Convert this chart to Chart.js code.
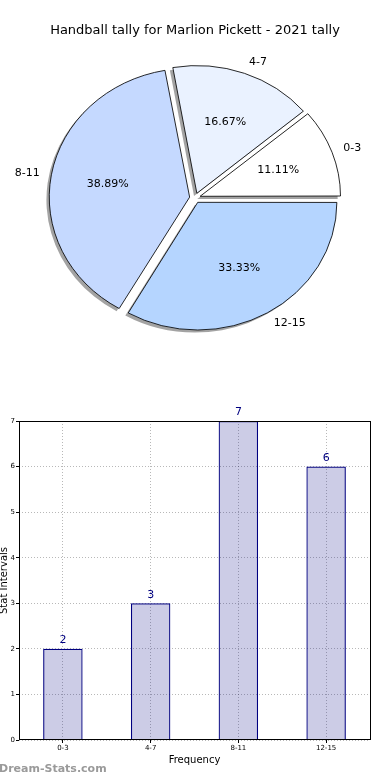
<!DOCTYPE html>
<html>
<head>
<meta charset="utf-8">
<script src="https://cdn.jsdelivr.net/npm/chart.js@4.4.0/dist/chart.umd.min.js"></script>
<style>
  html, body { margin: 0; padding: 0; background: #fff; }
  #page { position: relative; width: 390px; height: 780px; overflow: hidden; font-family: "DejaVu Sans", sans-serif; }
  #pieTitle { position: absolute; left: 0; top: 22px; width: 390px; text-align: center; font-size: 13px; color: #000; }
  #pieBox { position: absolute; left: 0; top: 0; width: 390px; height: 390px; }
  #barBox { position: absolute; left: 0; top: 390px; width: 390px; height: 390px; }
  #mark { position: absolute; left: -1px; top: 762px; font-weight: bold; font-size: 11px; color: #9a9a9a; }
</style>
</head>
<body>
<div id="page">
  <div id="pieBox"><canvas id="pie"></canvas></div>
  <div id="pieTitle">Handball tally for Marlion Pickett - 2021 tally</div>
  <div id="barBox"><canvas id="bar"></canvas></div>
  <div id="mark">Dream-Stats.com</div>
</div>
<script>
// data
var categories = ['0-3', '4-7', '8-11', '12-15'];
var tally = [2, 3, 7, 6];
var yTicks = [0, 1, 2, 3, 4, 5, 6, 7];

var sliceColors = ['#ffffff', '#eaf2ff', '#c5d9ff', '#b5d5ff'];

Chart.defaults.font.family = '"DejaVu Sans", sans-serif';
Chart.defaults.color = '#000';

// pie goes clockwise in chart.js, the original goes counter clockwise
var pieLabels = categories.slice().reverse();
var pieValues = tally.slice().reverse();
var pieColors = sliceColors.slice().reverse();
var total = tally.reduce(function(a, b) { return a + b; }, 0);

var STRETCH = 1.09;   // the original pie is an ellipse
var EXPLODE = 5;

var ellipsePie = {
    id: 'ellipsePie',
    beforeDatasetsDraw: function(chart) {
        var meta = chart.getDatasetMeta(0);
        var ctx = chart.ctx;
        var cx = meta.data[0].x;
        ctx.save();
        ctx.translate(cx, 0);
        ctx.scale(STRETCH, 1);
        ctx.translate(-cx, 0);
        // shadows
        ctx.fillStyle = 'rgba(0,0,0,0.36)';
        meta.data.forEach(function(a) {
            var mid = (a.startAngle + a.endAngle) / 2;
            var fix = 1 - Math.sin(Math.min(Math.PI, a.circumference));
            var x = a.x + Math.cos(mid) * EXPLODE - 2.6;
            var y = a.y + Math.sin(mid) * EXPLODE + 2.6;
            ctx.beginPath();
            ctx.moveTo(x, y);
            ctx.arc(x, y, a.outerRadius + EXPLODE * fix, a.startAngle, a.endAngle);
            ctx.closePath();
            ctx.fill();
        });
    },
    afterDatasetsDraw: function(chart) {
        var ctx = chart.ctx;
        ctx.restore();
        var meta = chart.getDatasetMeta(0);
        ctx.save();
        ctx.font = '11px "DejaVu Sans"';
        ctx.fillStyle = '#000';
        ctx.textBaseline = 'middle';
        meta.data.forEach(function(a, i) {
            var mid = (a.startAngle + a.endAngle) / 2;
            var c = Math.cos(mid), s = Math.sin(mid);
            var r = a.outerRadius;
            var lx = a.x + (EXPLODE + 1.1 * r) * c * STRETCH;
            var ly = a.y + (EXPLODE + 1.1 * r) * s;
            ctx.textAlign = c > 0 ? 'left' : 'right';
            ctx.fillText(pieLabels[i], lx, ly);
            var px = a.x + (EXPLODE + 0.6 * r) * c * STRETCH;
            var py = a.y + (EXPLODE + 0.6 * r) * s;
            ctx.textAlign = 'center';
            ctx.fillText((pieValues[i] / total * 100).toFixed(2) + '%', px, py);
        });
        ctx.restore();
    }
};

new Chart(document.getElementById('pie'), {
    type: 'pie',
    data: {
        labels: pieLabels,
        datasets: [{
            data: pieValues,
            backgroundColor: pieColors,
            borderColor: '#000',
            borderWidth: 0.8,
            offset: EXPLODE * 4
        }]
    },
    options: {
        responsive: true,
        maintainAspectRatio: false,
        animation: false,
        radius: 127,
        rotation: 90,
        layout: { padding: { top: 6, right: 0, left: 0, bottom: 0 } },
        plugins: { legend: { display: false }, tooltip: { enabled: false } }
    },
    plugins: [ellipsePie]
});

var frame = {
    id: 'frame',
    afterDatasetsDraw: function(chart) {
        var a = chart.chartArea, ctx = chart.ctx;
        ctx.save();
        ctx.strokeStyle = '#000';
        ctx.lineWidth = 1;
        ctx.strokeRect(Math.round(a.left) + 0.5, Math.round(a.top) + 0.5,
            Math.round(a.right - a.left), Math.round(a.bottom - a.top) - 1);
        // value labels
        var meta = chart.getDatasetMeta(0);
        ctx.font = '11px "DejaVu Sans"';
        ctx.fillStyle = '#000080';
        ctx.textAlign = 'center';
        ctx.textBaseline = 'bottom';
        meta.data.forEach(function(bar, i) {
            ctx.fillText(String(tally[i]), bar.x, bar.y - 3);
        });
        ctx.restore();
    }
};

var gridColor = 'rgba(0,0,0,0.28)';

new Chart(document.getElementById('bar'), {
    type: 'bar',
    data: {
        labels: categories,
        datasets: [{
            data: tally,
            backgroundColor: 'rgba(0,0,128,0.2)',
            borderColor: '#000080',
            borderWidth: 1.2,
            barPercentage: 0.45,
            categoryPercentage: 1
        }]
    },
    options: {
        responsive: true,
        maintainAspectRatio: false,
        animation: false,
        layout: { padding: { left: 0, right: 20, top: 31, bottom: 0 } },
        scales: {
            x: {
                grid: { offset: false, color: gridColor, tickLength: 3, tickColor: '#000' },
                border: { display: false, dash: [1, 2] },
                ticks: { font: { size: 7 }, color: '#000', padding: 1, maxRotation: 0 },
                title: { display: true, text: 'Frequency', font: { size: 10 }, color: '#000', padding: { top: 0, bottom: 14 } },
                afterFit: function(s) { s.height = 40; }
            },
            y: {
                min: yTicks[0],
                max: yTicks[yTicks.length - 1],
                grid: { color: gridColor, tickLength: 3, tickColor: '#000' },
                border: { display: false, dash: [1, 2] },
                ticks: { stepSize: 1, font: { size: 7 }, color: '#000', padding: 1 },
                title: { display: true, text: 'Stat Intervals', font: { size: 10 }, color: '#000', padding: { top: -2, bottom: 0 } },
                afterFit: function(s) { s.width = 19; }
            }
        },
        plugins: { legend: { display: false }, tooltip: { enabled: false } }
    },
    plugins: [frame]
});
</script>
</body>
</html>
